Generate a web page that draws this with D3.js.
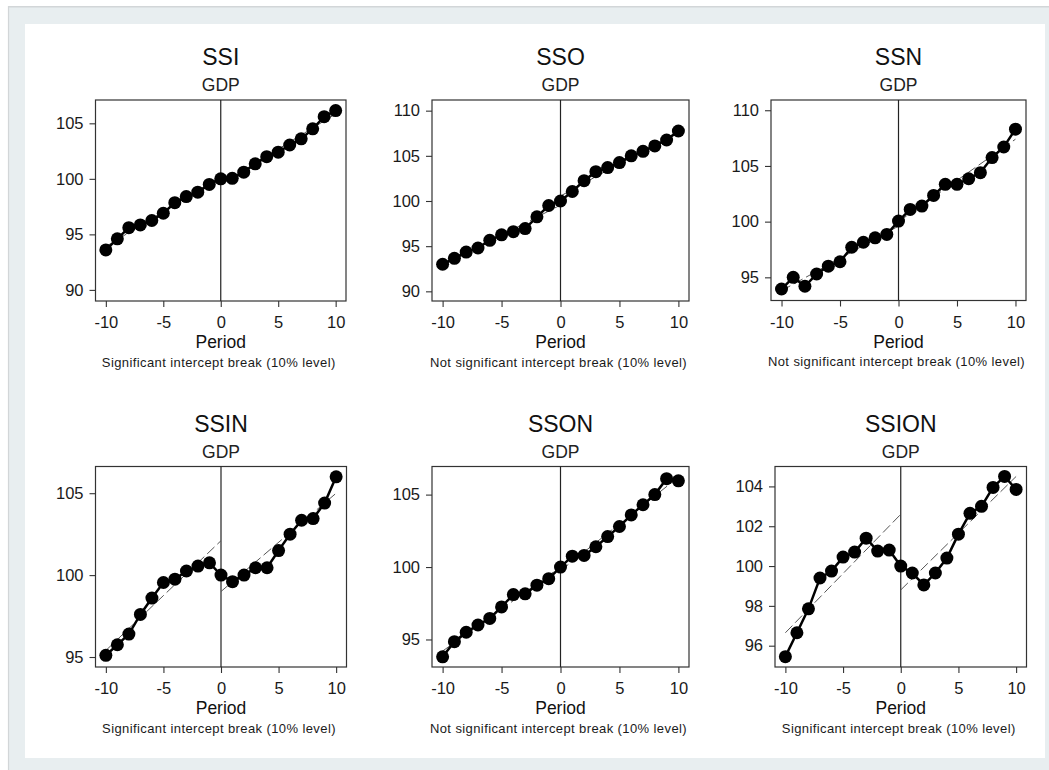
<!DOCTYPE html>
<html><head><meta charset="utf-8">
<script src="https://cdn.jsdelivr.net/npm/d3@7"></script>
<style>html,body{margin:0;padding:0;background:#fff;} svg{display:block;}</style>
</head><body><svg id="c" width="1049" height="770"></svg>
<script>
// ---- data ----
const periods = [-10,-9,-8,-7,-6,-5,-4,-3,-2,-1,0,1,2,3,4,5,6,7,8,9,10];
const xTicks = [-10,-5,0,5,10];

const ssi   = [93.6,94.6,95.6,95.85,96.25,96.9,97.85,98.4,98.8,99.5,100.0,100.05,100.6,101.35,102.0,102.4,103.05,103.6,104.5,105.6,106.15];
const sso   = [93.0,93.65,94.35,94.8,95.65,96.25,96.6,96.95,98.25,99.5,100.0,101.05,102.25,103.25,103.7,104.25,105.0,105.5,106.1,106.75,107.75];
const ssn   = [93.95,95.0,94.2,95.3,96.0,96.4,97.7,98.15,98.55,98.85,100.05,101.1,101.4,102.35,103.35,103.35,103.85,104.4,105.75,106.7,108.3];
const ssin  = [95.1,95.75,96.4,97.6,98.6,99.55,99.75,100.25,100.55,100.75,100.0,99.6,100.0,100.45,100.45,101.5,102.5,103.35,103.45,104.4,106.0];
const sson  = [93.8,94.85,95.5,96.0,96.45,97.25,98.1,98.15,98.75,99.2,100.0,100.75,100.8,101.4,102.1,102.8,103.6,104.3,105.0,106.1,105.95];
const ssion = [95.45,96.65,97.85,99.4,99.75,100.45,100.7,101.4,100.75,100.8,100.0,99.65,99.05,99.65,100.4,101.6,102.65,103.0,103.95,104.5,103.85];

// fitted (dashed) segments: [value at -10, value at 0 (left fit), value at 0, value at 10 (right fit)]
const fitSSI   = [93.9, 100.2, 99.5, 105.85];
const fitSSO   = [92.9, 99.55, 100.55, 107.7];
const fitSSN   = [93.8, 99.6, 100.0, 107.4];
const fitSSIN  = [95.4, 102.1, 99.0, 105.0];
const fitSSON  = [94.2, 100.0, 99.75, 106.2];
const fitSSION = [96.65, 102.6, 98.8, 104.5];

const yTicksSSI   = [90,95,100,105];
const yTicksSSO   = [90,95,100,105,110];
const yTicksSSN   = [95,100,105,110];
const yTicksSSIN  = [95,100,105];
const yTicksSSON  = [95,100,105];
const yTicksSSION = [96,98,100,102,104];

const titles = ["SSI","SSO","SSN","SSIN","SSON","SSION"];
const subtitle = "GDP";
const xLabel = "Period";
const noteSig = "Significant intercept break (10% level)";
const noteNot = "Not significant intercept break (10% level)";

// ---- layout ----
const panels = [
  {title:titles[0], values:ssi,   fit:fitSSI,   ticks:yTicksSSI,   note:noteSig, yDom:[89.0,107.1],  box:[95.5,346,100,301]},
  {title:titles[1], values:sso,   fit:fitSSO,   ticks:yTicksSSO,   note:noteNot, yDom:[88.93,111.18],box:[432,689,100,301]},
  {title:titles[2], values:ssn,   fit:fitSSN,   ticks:yTicksSSN,   note:noteNot, yDom:[92.92,110.92],box:[771,1026,100,300.5]},
  {title:titles[3], values:ssin,  fit:fitSSIN,  ticks:yTicksSSIN,  note:noteSig, yDom:[94.39,106.63],box:[95.5,346.5,466.5,667]},
  {title:titles[4], values:sson,  fit:fitSSON,  ticks:yTicksSSON,  note:noteNot, yDom:[93.1,106.94], box:[432,689,466.5,667]},
  {title:titles[5], values:ssion, fit:fitSSION, ticks:yTicksSSION, note:noteSig, yDom:[94.93,105.0], box:[775,1026.5,466.5,667]}
];

const FONT = "'Liberation Sans', Arial, Helvetica, sans-serif";
const svg = d3.select("#c");

// background frame
svg.append("rect").attr("x",0).attr("y",0).attr("width",1049).attr("height",770).attr("fill","#ffffff");
svg.append("rect").attr("x",8).attr("y",6).attr("width",1041).attr("height",764).attr("fill","#e8eef0");
svg.append("line").attr("x1",8).attr("x2",1049).attr("y1",6.75).attr("y2",6.75).attr("stroke","#d2d6d8").attr("stroke-width",1.5);
svg.append("line").attr("x1",8.5).attr("x2",8.5).attr("y1",6).attr("y2",770).attr("stroke","#d2d6d8").attr("stroke-width",1.2);
svg.append("rect").attr("x",25).attr("y",24).attr("width",1020).attr("height",734).attr("fill","#ffffff");

panels.forEach(p => {
  const [L,R,T,B] = p.box;
  const x = d3.scaleLinear().domain([-10.9,10.9]).range([L,R]);
  const y = d3.scaleLinear().domain(p.yDom).range([B,T]);
  const g = svg.append("g");
  const cx = (L+R)/2;

  // titles
  g.append("text").attr("x",cx).attr("y",T-35).attr("text-anchor","middle")
    .attr("font-family",FONT).attr("font-size",23).attr("fill","#111").text(p.title);
  g.append("text").attr("x",cx).attr("y",T-9).attr("text-anchor","middle")
    .attr("font-family",FONT).attr("font-size",17.5).attr("fill","#222").text(subtitle);

  // axes
  const ya = g.append("g").attr("transform",`translate(${L},0)`)
    .call(d3.axisLeft(y).tickValues(p.ticks).tickSize(6).tickSizeOuter(0).tickPadding(6).tickFormat(d=>String(d)));
  const xa = g.append("g").attr("transform",`translate(0,${B})`)
    .call(d3.axisBottom(x).tickValues(xTicks).tickSize(6).tickSizeOuter(0).tickPadding(9.5).tickFormat(d=>String(d)));
  [ya,xa].forEach(a=>{
    a.select(".domain").remove();
    a.selectAll(".tick line").attr("stroke","#333").attr("stroke-width",1.1);
    a.selectAll(".tick text").attr("font-family",FONT).attr("font-size",16.5).attr("fill","#1a1a1a");
  });

  // frame
  g.append("rect").attr("x",L).attr("y",T).attr("width",R-L).attr("height",B-T)
    .attr("fill","none").attr("stroke","#333").attr("stroke-width",1.2);

  // break line at 0
  g.append("line").attr("x1",x(0)).attr("x2",x(0)).attr("y1",T).attr("y2",B)
    .attr("stroke","#222").attr("stroke-width",1.2);

  // fitted dashed segments
  const segs = [[[-10,p.fit[0]],[0,p.fit[1]]],[[0,p.fit[2]],[10,p.fit[3]]]];
  const ln = d3.line().x(d=>x(d[0])).y(d=>y(d[1]));
  segs.forEach(s=>{
    g.append("path").attr("d",ln(s)).attr("fill","none")
      .attr("stroke","#555").attr("stroke-width",1).attr("stroke-dasharray","10,4");
  });

  // connected series
  const pts = periods.map((t,i)=>[t,p.values[i]]);
  g.append("path").attr("d",ln(pts)).attr("fill","none").attr("stroke","#000").attr("stroke-width",2.5);
  g.selectAll("circle.m").data(pts).enter().append("circle").attr("class","m")
    .attr("cx",d=>x(d[0])).attr("cy",d=>y(d[1])).attr("r",6.5).attr("fill","#000");

  // x label and note
  g.append("text").attr("x",cx).attr("y",B+47).attr("text-anchor","middle")
    .attr("font-family",FONT).attr("font-size",17.5).attr("fill","#111").text(xLabel);
  g.append("text").attr("x",cx-2).attr("y",B+65.5).attr("text-anchor","middle")
    .attr("font-family",FONT).attr("font-size",13).attr("letter-spacing","0.4px").attr("fill","#1a1a1a").text(p.note);
});
</script>
</body></html>
